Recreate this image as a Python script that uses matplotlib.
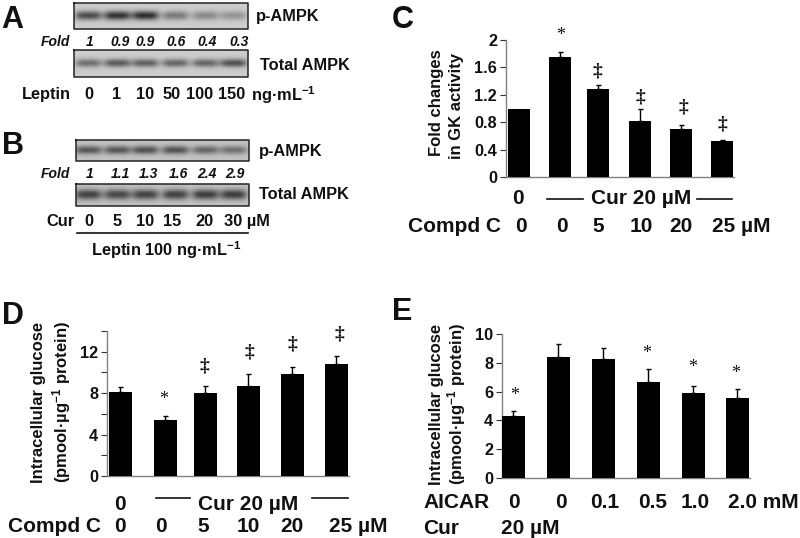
#!/usr/bin/env python3
"""Five panel figure: two western blots (A, B) and three bar charts (C, D, E)."""
import numpy as np
import matplotlib
matplotlib.use("Agg")
import matplotlib.pyplot as plt

W, H = 800, 538
plt.rcParams["font.family"] = ["Liberation Sans", "DejaVu Sans"]
plt.rcParams["font.weight"] = "bold"
plt.rcParams["mathtext.fontset"] = "custom"
plt.rcParams["mathtext.rm"] = "Liberation Sans:bold"
plt.rcParams["mathtext.bf"] = "Liberation Sans:bold"
plt.rcParams["mathtext.default"] = "bf"

INK = "#111111"
AXIS = "#808080"

# blot band darkness, per lane
A_PHOSPHO = [0.50, 0.60, 0.62, 0.32, 0.26, 0.22]
A_TOTAL = [0.36, 0.44, 0.42, 0.40, 0.40, 0.48]
B_PHOSPHO = [0.42, 0.42, 0.44, 0.44, 0.36, 0.32]
B_TOTAL = [0.50, 0.48, 0.50, 0.50, 0.52, 0.52]

A_FOLD = ["1", "0.9", "0.9", "0.6", "0.4", "0.3"]
B_FOLD = ["1", "1.1", "1.3", "1.6", "2.4", "2.9"]
LEPTIN_DOSE = ["0", "1", "10", "50", "100", "150"]
CUR_DOSE = ["0", "5", "10", "15", "20"]

C_VALUES = [1.0, 1.75, 1.28, 0.82, 0.70, 0.52]
C_ERR = [0.0, 0.07, 0.06, 0.18, 0.06, 0.02]
C_TICKS = [0, 0.4, 0.8, 1.2, 1.6, 2]
C_TICKLABELS = ["0", "0.4", "0.8", "1.2", "1.6", "2"]
C_DOSE = ["0", "0", "5", "10", "20"]

D_VALUES = [8.1, 5.4, 8.05, 8.7, 9.85, 10.85]
D_ERR = [0.45, 0.4, 0.6, 1.15, 0.65, 0.7]
D_TICKS = [0, 2, 4, 6, 8, 10, 12, 14]
D_TICKLABELS = ["0", "", "4", "", "8", "", "12", ""]
D_DOSE = ["0", "0", "5", "10", "20"]

E_VALUES = [4.3, 8.4, 8.25, 6.7, 5.9, 5.55]
E_ERR = [0.35, 0.9, 0.8, 0.9, 0.5, 0.6]
E_TICKS = [0, 2, 4, 6, 8, 10]
E_TICKLABELS = ["0", "2", "4", "6", "8", "10"]
E_DOSE = ["0", "0", "0.1", "0.5", "1.0"]

LANES = [88, 117, 145, 175, 205, 233]
C_X = [519, 560, 598, 640, 681, 722]
D_X = [120, 165, 205, 248, 292, 336]
E_X = [513, 558, 603, 648, 693, 737]

fig = plt.figure(figsize=(W / 100, H / 100), dpi=100)
page = fig.add_axes([0, 0, 1, 1])
page.set_xlim(0, W)
page.set_ylim(H, 0)
page.axis("off")


def txt(x, y, s, size=11.8, ha="left", **kw):
    page.text(x, y, s, fontsize=size, ha=ha, va="center_baseline", color=INK, **kw)


def vtxt(x, y, s, size=12):
    page.text(x, y, s, fontsize=size, ha="center", va="center", rotation=90, color=INK)


def blot(x0, x1, y0, y1, strengths, bg=0.80, band_h=4.6):
    xs = np.arange(x0, x1)
    ys = np.arange(y0, y1)
    img = np.full((len(ys), len(xs)), bg)
    cy = (y0 + y1) / 2 - 1
    for cx, s in zip(LANES, strengths):
        prof_x = np.exp(-((xs - cx) / 13.5) ** 4)
        prof_y = np.exp(-((ys - cy) / band_h) ** 2)
        img -= s * np.outer(prof_y, prof_x)
    page.imshow(img, cmap="gray", vmin=0, vmax=1, extent=(x0, x1, y1, y0),
                aspect="auto", interpolation="bilinear", zorder=1)
    page.plot([x0, x1, x1, x0, x0], [y0, y0, y1, y1, y0], color="#222222", lw=1.1, zorder=2)
    page.set_xlim(0, W)
    page.set_ylim(H, 0)


def bars(x0, x1, y_base, y_top, ymax, xs, vals, errs, ticks, ticklabels, width):
    ax = fig.add_axes([x0 / W, 1 - y_base / H, (x1 - x0) / W, (y_base - y_top) / H])
    ax.patch.set_alpha(0)
    ax.set_xlim(x0, x1)
    ax.set_ylim(0, ymax)
    ax.bar(xs, vals, width=width, color="black", zorder=3)
    for x, v, e in zip(xs, vals, errs):
        if e:
            ax.errorbar([x], [v], yerr=[[0], [e]], fmt="none", ecolor="black",
                        elinewidth=1.0, capsize=1.8, capthick=1.0, zorder=2)
    ax.set_xticks([])
    ax.set_yticks(ticks)
    ax.set_yticklabels(ticklabels, fontsize=11.7, color=INK, fontweight="bold")
    ax.tick_params(axis="y", length=4.3, width=0.8, color="#333333", pad=2)
    for s in ("top", "right"):
        ax.spines[s].set_visible(False)
    for s in ("left", "bottom"):
        ax.spines[s].set_color(AXIS)
        ax.spines[s].set_linewidth(1.0)
    return ax


def marks(points, glyph, size=13, weight="normal"):
    for x, y in points:
        page.text(x, y, glyph, fontsize=size, ha="center", va="center", color=INK,
                  family="Liberation Serif", fontweight=weight)


# ---- panel letters ----
txt(1, 16, "A", size=22)
txt(2, 143, "B", size=22)
txt(392, 17, "C", size=22)
txt(2, 312, "D", size=22)
txt(392, 308, "E", size=22)

# ---- A ----
blot(74, 248, 3, 29, A_PHOSPHO)
blot(74, 248, 50, 77, A_TOTAL, band_h=4.2)
txt(256, 15, "p-AMPK")
txt(260, 64, "Total AMPK")
txt(41, 41, "Fold", size=10, style="italic")
for x, s in zip([90, 120, 145, 176, 207, 239], A_FOLD):
    txt(x, 41, s, size=10, ha="center", style="italic")
txt(22, 93, "Leptin")
for x, s in zip([89, 117, 145, 172, 200, 232], LEPTIN_DOSE):
    txt(x, 93, s, ha="center")
txt(251, 93, r"ng·mL$^{\mathbf{-1}}$")

# ---- B ----
blot(76, 249, 140, 161, B_PHOSPHO, bg=0.76, band_h=4.2)
blot(76, 249, 184, 206, B_TOTAL, bg=0.76, band_h=5.2)
txt(259, 150, "p-AMPK")
txt(259, 193, "Total AMPK")
txt(41, 172, "Fold", size=10, style="italic")
for x, s in zip([90, 120, 148, 178, 207, 235], B_FOLD):
    txt(x, 172, s, size=10, ha="center", style="italic")
txt(46, 220, "Cur")
for x, s in zip([89, 117, 145, 172, 204], CUR_DOSE):
    txt(x, 220, s, ha="center")
txt(224, 220, "30 µM")
page.plot([77, 248], [233, 233], color=INK, lw=1.2)
txt(166, 248, r"Leptin 100 ng·mL$^{\mathbf{-1}}$", ha="center")

# ---- C ----
bars(506, 734, 177, 40, 2, C_X, C_VALUES, C_ERR, C_TICKS, C_TICKLABELS, 22)
vtxt(437, 103, "Fold changes")
vtxt(457, 106, "in GK activity")
marks([(561, 36)], "*")
marks([(597, 71), (640, 97), (683, 107), (722, 124)], "‡", size=14, weight="bold")
txt(518, 197, "0", size=15, ha="center")
page.plot([547, 583], [199, 199], color=INK, lw=1.2)
txt(641, 197, "Cur 20 µM", size=15, ha="center")
page.plot([697, 732], [199, 199], color=INK, lw=1.2)
txt(408, 224, "Compd C", size=15)
for x, s in zip([521, 562, 598, 641, 681], C_DOSE):
    txt(x, 224, s, size=15, ha="center")
txt(712, 224, "25 µM", size=15)

# ---- D ----
bars(107, 349, 476, 331, 14, D_X, D_VALUES, D_ERR, D_TICKS, D_TICKLABELS, 23)
vtxt(39, 402, "Intracellular glucose")
vtxt(62, 402, r"(pmool·µg$^{\mathbf{-1}}$ protein)")
marks([(164, 400)], "*")
marks([(204, 366), (249, 352), (292, 344), (339, 334)], "‡", size=14, weight="bold")
txt(120, 502, "0", size=15, ha="center")
page.plot([156, 190], [498, 498], color=INK, lw=1.2)
txt(248, 502, "Cur 20 µM", size=15, ha="center")
page.plot([312, 348], [498, 498], color=INK, lw=1.2)
txt(8, 525, "Compd C", size=15)
for x, s in zip([120, 161, 203, 248, 292], D_DOSE):
    txt(x, 525, s, size=15, ha="center")
txt(329, 525, "25 µM", size=15)

# ---- E ----
bars(502, 750, 478, 334, 10, E_X, E_VALUES, E_ERR, E_TICKS, E_TICKLABELS, 23)
vtxt(437, 404, "Intracellular glucose")
vtxt(457, 404, r"(pmool·µg$^{\mathbf{-1}}$ protein)")
marks([(515, 396), (647, 354), (693, 367), (736, 374)], "*")
txt(423, 501, "AICAR", size=15)
for x, s in zip([514, 561, 605, 653, 695], E_DOSE):
    txt(x, 501, s, size=15, ha="center")
txt(728, 501, "2.0 mM", size=15)
txt(423, 527, "Cur", size=15)
txt(501, 527, "20 µM", size=15)

fig.savefig("out.png", dpi=100)
